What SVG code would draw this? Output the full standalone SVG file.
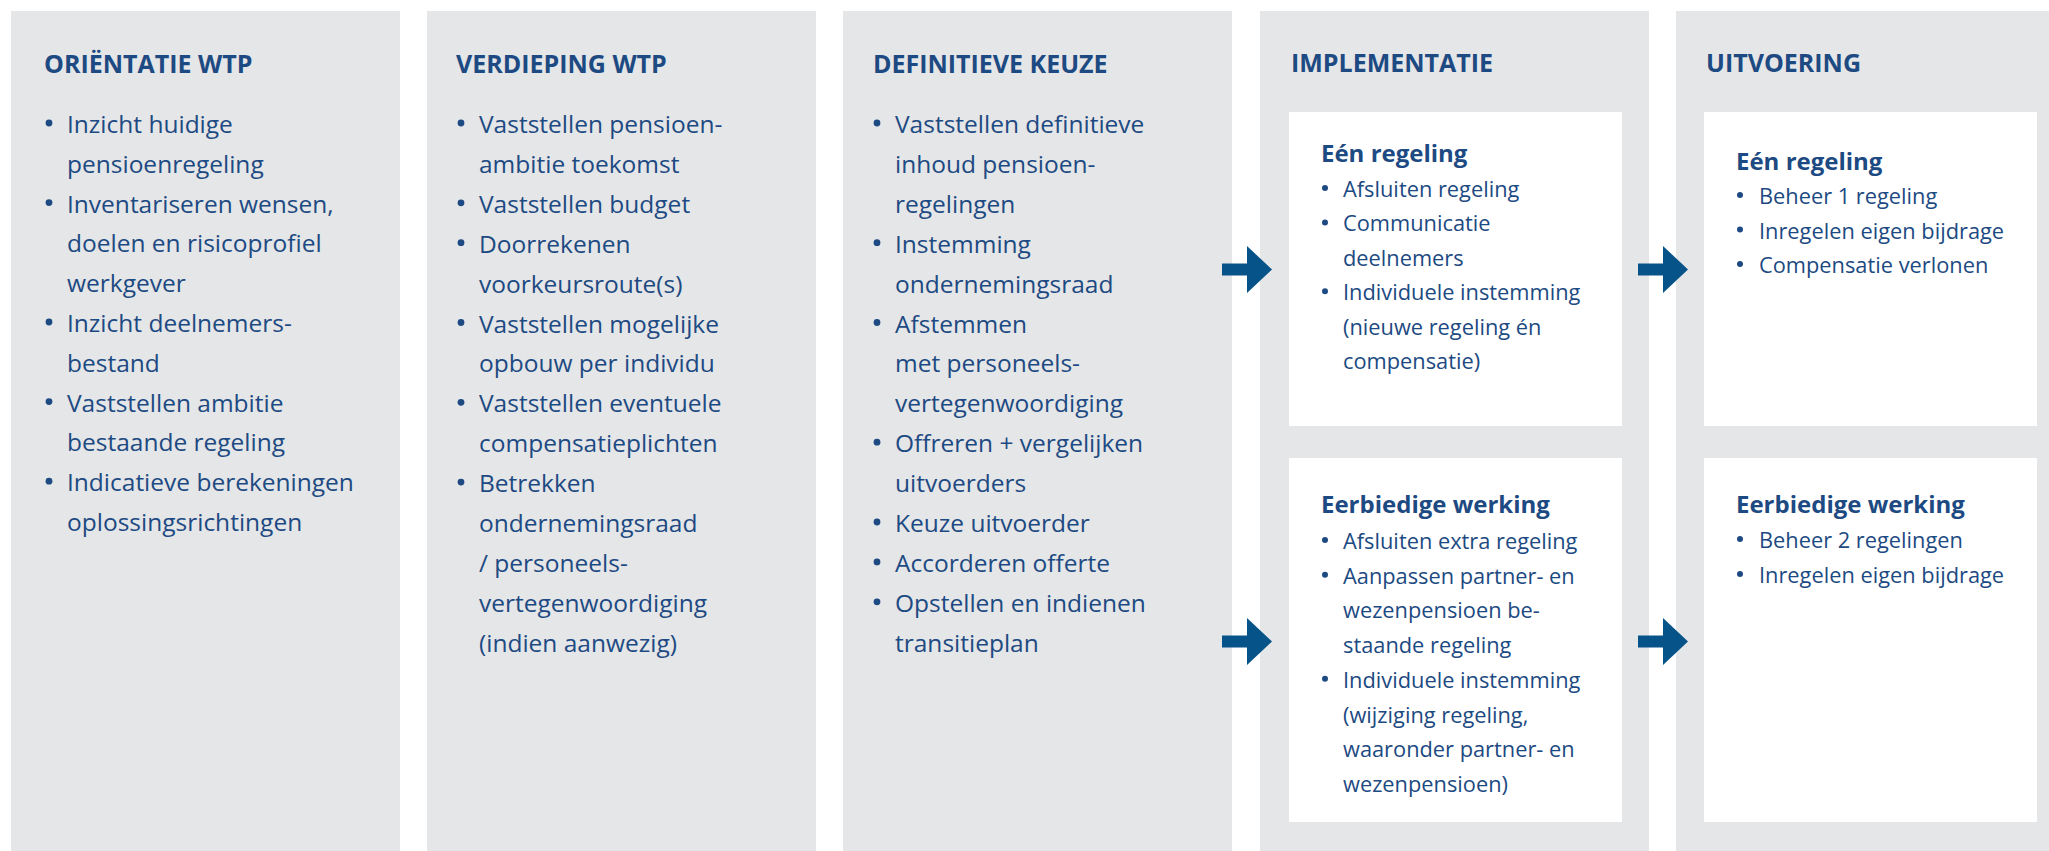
<svg xmlns="http://www.w3.org/2000/svg" width="2049" height="851" viewBox="0 0 2049 851">
<style>
.col{fill:#e5e6e8}
.box{fill:#ffffff}
.h{font-family:"Open Sans","Liberation Sans",sans-serif;font-weight:700;font-size:25px;fill:#1d4a82}
.t{font-family:"Open Sans","Liberation Sans",sans-serif;font-size:24.5px;fill:#1d4a82}
.bh{font-family:"Open Sans","Liberation Sans",sans-serif;font-weight:700;font-size:24px;fill:#1d4a82}
.s{font-family:"Open Sans","Liberation Sans",sans-serif;font-size:21.8px;fill:#1d4a82}
.b{fill:#1d4a82}
.arrow{fill:#06538a}
</style>
<rect width="2049" height="851" fill="#ffffff"/>

<g id="col1">
<rect class="col" x="11" y="11" width="389" height="840"/>
<text class="h" x="44" y="73">ORIËNTATIE WTP</text>
<g class="b">
<circle cx="49" cy="123" r="3.4"/><circle cx="49" cy="202.6" r="3.4"/><circle cx="49" cy="322" r="3.4"/><circle cx="49" cy="401.6" r="3.4"/><circle cx="49" cy="481.2" r="3.4"/>
</g>
<text class="t">
<tspan x="67" y="133">Inzicht huidige</tspan>
<tspan x="67" y="172.8">pensioenregeling</tspan>
<tspan x="67" y="212.6">Inventariseren wensen,</tspan>
<tspan x="67" y="252.4">doelen en risicoprofiel</tspan>
<tspan x="67" y="292.2">werkgever</tspan>
<tspan x="67" y="332">Inzicht deelnemers-</tspan>
<tspan x="67" y="371.8">bestand</tspan>
<tspan x="67" y="411.6">Vaststellen ambitie</tspan>
<tspan x="67" y="451.4">bestaande regeling</tspan>
<tspan x="67" y="491.2">Indicatieve berekeningen</tspan>
<tspan x="67" y="531">oplossingsrichtingen</tspan>
</text>
</g>

<g id="col2">
<rect class="col" x="427" y="11" width="389" height="840"/>
<text class="h" x="456" y="73">VERDIEPING WTP</text>
<g class="b">
<circle cx="461" cy="123" r="3.4"/><circle cx="461" cy="202.8" r="3.4"/><circle cx="461" cy="242.7" r="3.4"/><circle cx="461" cy="322.5" r="3.4"/><circle cx="461" cy="402.3" r="3.4"/><circle cx="461" cy="482.1" r="3.4"/>
</g>
<text class="t">
<tspan x="479" y="133">Vaststellen pensioen-</tspan>
<tspan x="479" y="172.9">ambitie toekomst</tspan>
<tspan x="479" y="212.8">Vaststellen budget</tspan>
<tspan x="479" y="252.7">Doorrekenen</tspan>
<tspan x="479" y="292.6">voorkeursroute(s)</tspan>
<tspan x="479" y="332.5">Vaststellen mogelijke</tspan>
<tspan x="479" y="372.4">opbouw per individu</tspan>
<tspan x="479" y="412.3">Vaststellen eventuele</tspan>
<tspan x="479" y="452.2">compensatieplichten</tspan>
<tspan x="479" y="492.1">Betrekken</tspan>
<tspan x="479" y="532">ondernemingsraad</tspan>
<tspan x="479" y="571.9">/ personeels-</tspan>
<tspan x="479" y="611.8">vertegenwoordiging</tspan>
<tspan x="479" y="651.7">(indien aanwezig)</tspan>
</text>
</g>

<g id="col3">
<rect class="col" x="843" y="11" width="389" height="840"/>
<text class="h" x="873" y="73">DEFINITIEVE KEUZE</text>
<g class="b">
<circle cx="877" cy="123" r="3.4"/><circle cx="877" cy="242.7" r="3.4"/><circle cx="877" cy="322.5" r="3.4"/><circle cx="877" cy="442.2" r="3.4"/><circle cx="877" cy="522" r="3.4"/><circle cx="877" cy="561.9" r="3.4"/><circle cx="877" cy="601.8" r="3.4"/>
</g>
<text class="t">
<tspan x="895" y="133">Vaststellen definitieve</tspan>
<tspan x="895" y="172.9">inhoud pensioen-</tspan>
<tspan x="895" y="212.8">regelingen</tspan>
<tspan x="895" y="252.7">Instemming</tspan>
<tspan x="895" y="292.6">ondernemingsraad</tspan>
<tspan x="895" y="332.5">Afstemmen</tspan>
<tspan x="895" y="372.4">met personeels-</tspan>
<tspan x="895" y="412.3">vertegenwoordiging</tspan>
<tspan x="895" y="452.2">Offreren + vergelijken</tspan>
<tspan x="895" y="492.1">uitvoerders</tspan>
<tspan x="895" y="532">Keuze uitvoerder</tspan>
<tspan x="895" y="571.9">Accorderen offerte</tspan>
<tspan x="895" y="611.8">Opstellen en indienen</tspan>
<tspan x="895" y="651.7">transitieplan</tspan>
</text>
</g>

<g id="col4">
<rect class="col" x="1260" y="11" width="389" height="840"/>
<text class="h" x="1291" y="72">IMPLEMENTATIE</text>
</g>

<g id="col4-box1">
<rect class="box" x="1289" y="112" width="333" height="314"/>
<text class="bh" x="1321" y="162">Eén regeling</text>
<g class="b">
<circle cx="1325" cy="188" r="3"/><circle cx="1325" cy="222.4" r="3"/><circle cx="1325" cy="291.2" r="3"/>
</g>
<text class="s">
<tspan x="1343" y="197">Afsluiten regeling</tspan>
<tspan x="1343" y="231.4">Communicatie</tspan>
<tspan x="1343" y="265.8">deelnemers</tspan>
<tspan x="1343" y="300.2">Individuele instemming</tspan>
<tspan x="1343" y="334.6">(nieuwe regeling én</tspan>
<tspan x="1343" y="369">compensatie)</tspan>
</text>
</g>

<g id="col4-box2">
<rect class="box" x="1289" y="458" width="333" height="364"/>
<text class="bh" x="1321" y="513">Eerbiedige werking</text>
<g class="b">
<circle cx="1325" cy="540" r="3"/><circle cx="1325" cy="574.7" r="3"/><circle cx="1325" cy="678.8" r="3"/>
</g>
<text class="s">
<tspan x="1343" y="549">Afsluiten extra regeling</tspan>
<tspan x="1343" y="583.7">Aanpassen partner- en</tspan>
<tspan x="1343" y="618.4">wezenpensioen be-</tspan>
<tspan x="1343" y="653.1">staande regeling</tspan>
<tspan x="1343" y="687.8">Individuele instemming</tspan>
<tspan x="1343" y="722.5">(wijziging regeling,</tspan>
<tspan x="1343" y="757.2">waaronder partner- en</tspan>
<tspan x="1343" y="791.9">wezenpensioen)</tspan>
</text>
</g>

<g id="col5">
<rect class="col" x="1676" y="11" width="373" height="840"/>
<text class="h" x="1706" y="72">UITVOERING</text>
</g>

<g id="col5-box1">
<rect class="box" x="1704" y="112" width="333" height="314"/>
<text class="bh" x="1736" y="170">Eén regeling</text>
<g class="b">
<circle cx="1740" cy="195" r="3"/><circle cx="1740" cy="229.5" r="3"/><circle cx="1740" cy="264" r="3"/>
</g>
<text class="s">
<tspan x="1759" y="204">Beheer 1 regeling</tspan>
<tspan x="1759" y="238.5">Inregelen eigen bijdrage</tspan>
<tspan x="1759" y="273">Compensatie verlonen</tspan>
</text>
</g>

<g id="col5-box2">
<rect class="box" x="1704" y="458" width="333" height="364"/>
<text class="bh" x="1736" y="513">Eerbiedige werking</text>
<g class="b">
<circle cx="1740" cy="539" r="3"/><circle cx="1740" cy="574" r="3"/>
</g>
<text class="s">
<tspan x="1759" y="548">Beheer 2 regelingen</tspan>
<tspan x="1759" y="583">Inregelen eigen bijdrage</tspan>
</text>
</g>

<g id="connectors">
<path class="arrow" d="M1222,263.5 H1247 V246 L1272,269.5 L1247,293 V275.5 H1222 Z"/>
<path class="arrow" d="M1222,635.5 H1247 V618 L1272,641.5 L1247,665 V647.5 H1222 Z"/>
<path class="arrow" d="M1638,263.5 H1663 V246 L1688,269.5 L1663,293 V275.5 H1638 Z"/>
<path class="arrow" d="M1638,635.5 H1663 V618 L1688,641.5 L1663,665 V647.5 H1638 Z"/>
</g>
</svg>
